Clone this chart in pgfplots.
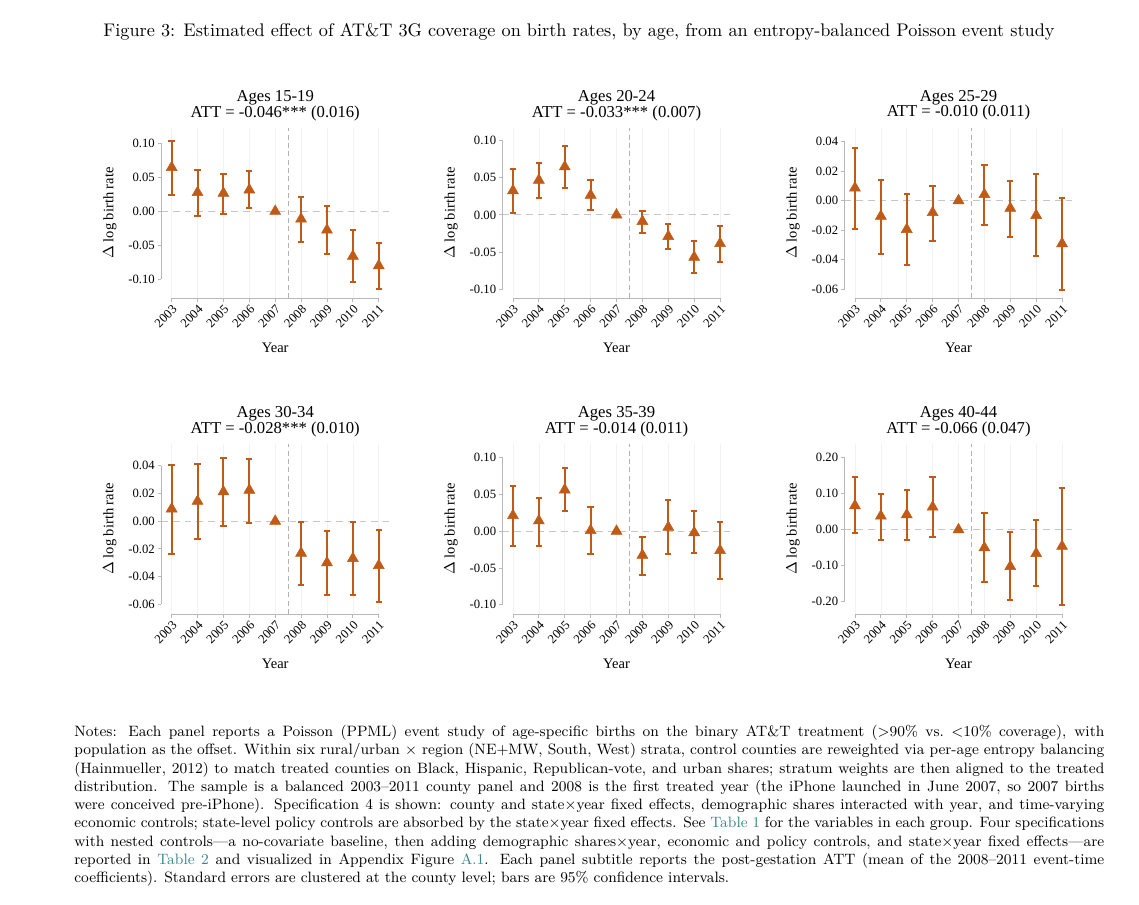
\documentclass[border=0pt]{standalone}
\usepackage{fontspec}
\usepackage{pgfplots}
\usepackage{pgfplotstable}
\pgfplotsset{compat=1.18}
\newfontfamily\tnr{Liberation Serif}
\definecolor{mk}{HTML}{BF5B17}
\definecolor{teal2}{RGB}{56,134,140}
\definecolor{fr}{gray}{0.72}

\pgfplotstableread{
year est lo hi
2003 0.0645 0.0246 0.1034
2004 0.0276 -0.0069 0.0606
2005 0.0266 -0.0044 0.0552
2006 0.0315 0.0044 0.0586
2007 0 0 0
2008 -0.0113 -0.0453 0.0212
2009 -0.0276 -0.0626 0.0074
2010 -0.0660 -0.1034 -0.0271
2011 -0.0800 -0.1143 -0.0473
}\tA
\pgfplotstableread{
year est lo hi
2003 0.0326 0.0028 0.0615
2004 0.0468 0.0229 0.0702
2005 0.0647 0.0367 0.0927
2006 0.0266 0.0060 0.0463
2007 0 0 0
2008 -0.0087 -0.0248 0.0055
2009 -0.0289 -0.0459 -0.0124
2010 -0.0569 -0.0780 -0.0353
2011 -0.0385 -0.0628 -0.0156
}\tB
\pgfplotstableread{
year est lo hi
2003 0.0086 -0.0195 0.0357
2004 -0.0106 -0.0362 0.0143
2005 -0.0195 -0.0437 0.0043
2006 -0.0081 -0.0274 0.0102
2007 0 0 0
2008 0.0041 -0.0165 0.0240
2009 -0.0052 -0.0244 0.0136
2010 -0.0100 -0.0376 0.0179
2011 -0.0292 -0.0606 0.0016
}\tC
\pgfplotstableread{
year est lo hi
2003 0.0089 -0.0238 0.0406
2004 0.0144 -0.0130 0.0411
2005 0.0212 -0.0038 0.0459
2006 0.0224 -0.0010 0.0452
2007 0 0 0
2008 -0.0231 -0.0462 -0.0005
2009 -0.0300 -0.0531 -0.0070
2010 -0.0269 -0.0536 -0.0005
2011 -0.0320 -0.0582 -0.0065
}\tD
\pgfplotstableread{
year est lo hi
2003 0.0213 -0.0204 0.0608
2004 0.0141 -0.0200 0.0458
2005 0.0562 0.0277 0.0853
2006 0.0009 -0.0317 0.0331
2007 0 0 0
2008 -0.0327 -0.0590 -0.0073
2009 0.0054 -0.0317 0.0422
2010 -0.0020 -0.0299 0.0281
2011 -0.0263 -0.0649 0.0122
}\tE
\pgfplotstableread{
year est lo hi
2003 0.0667 -0.0102 0.1454
2004 0.0380 -0.0278 0.0990
2005 0.0417 -0.0296 0.1110
2006 0.0630 -0.0204 0.1460
2007 0 0 0
2008 -0.0500 -0.1460 0.0463
2009 -0.1020 -0.1950 -0.0065
2010 -0.0660 -0.1560 0.0269
2011 -0.0460 -0.2090 0.1150
}\tF

\pgfplotsset{panel/.style={
  scale only axis, width=136.7pt, height=102pt,
  anchor=south west, clip=false,
  xmin=2002.6, xmax=2011.4,
  axis lines*=left, axis line style={draw=none},
  xtick={2003,2004,2005,2006,2007,2008,2009,2010,2011},
  xticklabels={2003,2004,2005,2006,2007,2008,2009,2010,2011},
  scaled y ticks=false, scaled x ticks=false,
  tick align=outside, major tick length=2.2pt,
  tick style={fr, line width=0.5pt},
  xmajorgrids, ymajorgrids=false,
  major grid style={gray!10, line width=0.4pt},
  tick label style={font=\tnr\fontsize{7.6}{9}\selectfont},
  xticklabel style={rotate=45, anchor=north east, inner sep=1pt},
  yticklabel style={inner sep=1.5pt},
}}
\newcommand{\decor}[5]{% #1 low tick, #2 high tick, #3 title, #4 att, #5 table
  \addplot[gray!45, line width=0.6pt, dash pattern=on 4pt off 3pt, forget plot] coordinates {(2002.6,0) (2011.4,0)};
  \draw[gray!60, line width=0.5pt, dash pattern=on 3pt off 2pt] ({axis cs:2007.5,0} |- {rel axis cs:0,0}) -- ({axis cs:2007.5,0} |- {rel axis cs:0,1});
  \draw[fr, line width=0.6pt] ({axis cs:2003,0} |- {rel axis cs:0,0}) -- ({axis cs:2011,0} |- {rel axis cs:0,0});
  \draw[fr, line width=0.6pt] ({rel axis cs:0,0} |- {axis cs:2003,#1}) -- ({rel axis cs:0,0} |- {axis cs:2003,#2});
  % confidence intervals (lo -> hi)
  \addplot[forget plot, mk, line width=1.2pt, quiver={u=0, v=\thisrow{hi}-\thisrow{lo}}]
    table[x=year, y=lo] {#5};
  \addplot[forget plot, only marks, mark=-, mark size=1.9pt, mark options={draw=mk, line width=1.2pt}] table[x=year, y=lo] {#5};
  \addplot[forget plot, only marks, mark=-, mark size=1.9pt, mark options={draw=mk, line width=1.2pt}] table[x=year, y=hi] {#5};
  \addplot[only marks, mark=triangle*, mark size=3.8pt, mark options={fill=mk, draw=mk, line width=0.3pt}] table[x=year, y=est] {#5};
  \node[font=\tnr\fontsize{10}{12}\selectfont] at ([yshift=18pt]rel axis cs:0.5,1) {#3};
  \node[font=\tnr\fontsize{10}{12}\selectfont] at ([yshift=9pt]rel axis cs:0.5,1) {#4};
  \node[font=\tnr\fontsize{8.7}{10}\selectfont] at ([yshift=-29.7pt]rel axis cs:0.5,0) {Year};
  \node[font=\tnr\fontsize{8.7}{10}\selectfont, rotate=90] at ([xshift=-30.9pt]rel axis cs:0,0.5) {$\Delta$ log birth rate};
}

\begin{document}
\begin{tikzpicture}
\useasboundingbox (0,0) rectangle (683.4pt,-543pt);

\node[anchor=base, font=\fontsize{10.95}{13}\selectfont] at (347.4pt,-22pt) {Figure 3: Estimated effect of AT\&T 3G coverage on birth rates, by age, from an entropy-balanced Poisson event study};

% Row 1
\begin{axis}[panel, at={(96.78pt,-178.8pt)}, ymin=-0.1275, ymax=0.1225,
  ytick={-0.10,-0.05,0,0.05,0.10}, yticklabels={-0.10,-0.05,0.00,0.05,0.10}]
\decor{-0.10}{0.10}{Ages 15-19}{ATT = -0.046*** (0.016)}{\tA}
\end{axis}
\begin{axis}[panel, at={(301.56pt,-178.8pt)}, ymin=-0.1118, ymax=0.1169,
  ytick={-0.10,-0.05,0,0.05,0.10}, yticklabels={-0.10,-0.05,0.00,0.05,0.10}]
\decor{-0.10}{0.10}{Ages 20-24}{ATT = -0.033*** (0.007)}{\tB}
\end{axis}
\begin{axis}[panel, at={(506.76pt,-178.8pt)}, ymin=-0.0661, ymax=0.0493,
  ytick={-0.06,-0.04,-0.02,0,0.02,0.04}, yticklabels={-0.06,-0.04,-0.02,0.00,0.02,0.04}]
\decor{-0.06}{0.04}{Ages 25-29}{ATT = -0.010 (0.011)}{\tC}
\end{axis}

% Row 2
\begin{axis}[panel, at={(96.78pt,-368.4pt)}, ymin=-0.067, ymax=0.0557,
  ytick={-0.06,-0.04,-0.02,0,0.02,0.04}, yticklabels={-0.06,-0.04,-0.02,0.00,0.02,0.04}]
\decor{-0.06}{0.04}{Ages 30-34}{ATT = -0.028*** (0.010)}{\tD}
\end{axis}
\begin{axis}[panel, at={(301.56pt,-368.4pt)}, ymin=-0.1127, ymax=0.1186,
  ytick={-0.10,-0.05,0,0.05,0.10}, yticklabels={-0.10,-0.05,0.00,0.05,0.10}]
\decor{-0.10}{0.10}{Ages 35-39}{ATT = -0.014 (0.011)}{\tE}
\end{axis}
\begin{axis}[panel, at={(506.76pt,-368.4pt)}, ymin=-0.234, ymax=0.238,
  ytick={-0.20,-0.10,0,0.10,0.20}, yticklabels={-0.20,-0.10,0.00,0.10,0.20}]
\decor{-0.20}{0.20}{Ages 40-44}{ATT = -0.066 (0.047)}{\tF}
\end{axis}

\node[anchor=north west, inner sep=0pt, text width=618pt, align=justify, font=\fontsize{9}{10.95}\selectfont] at (44.4pt,-435pt) {Notes: Each panel reports a Poisson (PPML) event study of age-specific births on the binary AT\&T treatment ($>$90\% vs.\ $<$10\% coverage), with\linebreak
population as the offset. Within six rural/urban $\times$ region (NE+MW, South, West) strata, control counties are reweighted via per-age entropy balancing\linebreak
(Hainmueller, 2012) to match treated counties on Black, Hispanic, Republican-vote, and urban shares; stratum weights are then aligned to the treated\linebreak
distribution. The sample is a balanced 2003--2011 county panel and 2008 is the first treated year (the iPhone launched in June 2007, so 2007 births\linebreak
were conceived pre-iPhone). Specification 4 is shown: county and state$\times$year fixed effects, demographic shares interacted with year, and time-varying\linebreak
economic controls; state-level policy controls are absorbed by the state$\times$year fixed effects. See \textcolor{teal2}{Table 1} for the variables in each group. Four specifications\linebreak
with nested controls---a no-covariate baseline, then adding demographic shares$\times$year, economic and policy controls, and state$\times$year fixed effects---are\linebreak
reported in \textcolor{teal2}{Table 2} and visualized in Appendix Figure \textcolor{teal2}{A.1}. Each panel subtitle reports the post-gestation ATT (mean of the 2008--2011 event-time\linebreak
coefficients). Standard errors are clustered at the county level; bars are 95\% confidence intervals.};
\end{tikzpicture}
\end{document}
